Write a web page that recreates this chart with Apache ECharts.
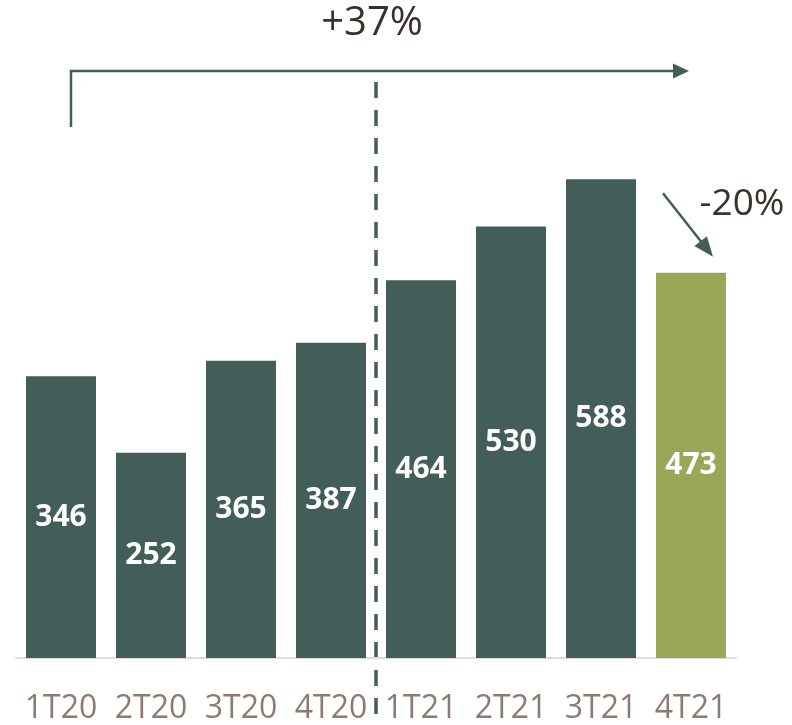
<!DOCTYPE html>
<html>
<head>
<meta charset="utf-8">
<script src="https://cdn.jsdelivr.net/npm/echarts@6/dist/echarts.min.js"></script>
<style>
html,body{margin:0;padding:0;background:#fff;}
#c{width:792px;height:725px;}
</style>
</head>
<body>
<div id="c"></div>
<script>
var categories = ['1T20','2T20','3T20','4T20','1T21','2T21','3T21','4T21'];
var values = [346, 252, 365, 387, 464, 530, 588, 473];
var highlightIndex = 7;
var totalChange = '+37%';
var lastChange = '-20%';

var DARK = '#435E58';
var OLIVE = '#9BA657';
var FONT = '"Open Sans", "Noto Sans", sans-serif';

var chart = echarts.init(document.getElementById('c'));
var option = {
  animation: false,
  grid: {left: 16, right: 56, top: 88, bottom: 66},
  xAxis: {
    type: 'category',
    data: categories,
    axisLine: {lineStyle: {color: '#E0DCDA', width: 2}},
    axisTick: {show: false},
    axisLabel: {interval: 0, color: '#8F7A72', fontSize: 32, fontFamily: FONT, margin: 35}
  },
  yAxis: {type: 'value', min: 0, max: 700, show: false, splitLine: {show: false}},
  series: [{
    type: 'bar',
    barWidth: 70,
    data: values.map(function (v, i) {
      return {value: v, itemStyle: {color: i === highlightIndex ? OLIVE : DARK}};
    }),
    label: {
      show: true, position: 'inside', color: '#fff',
      fontSize: 30, fontWeight: 'bold', fontFamily: FONT
    }
  }]
};
chart.setOption(option);

// annotations positioned from the chart's own scales
var p3 = chart.convertToPixel({gridIndex: 0}, [3, 0]);
var p4 = chart.convertToPixel({gridIndex: 0}, [4, 0]);
var splitX = (p3[0] + p4[0]) / 2;
var first = chart.convertToPixel({gridIndex: 0}, [0, values[0]]);
var last = chart.convertToPixel({gridIndex: 0}, [7, values[7]]);
var prev = chart.convertToPixel({gridIndex: 0}, [6, values[6]]);

var bracketY = 71;
var bx0 = first[0] + 10;
var bx1 = last[0] - 2;
var tip1 = [last[0] + 22, last[1] - 16];
var start1 = [prev[0] + 62, prev[1] + 14];

function arrowHead(tip, from, len, half) {
  var dx = tip[0] - from[0], dy = tip[1] - from[1];
  var L = Math.sqrt(dx * dx + dy * dy), ux = dx / L, uy = dy / L;
  var bxp = tip[0] - ux * len, byp = tip[1] - uy * len;
  return {
    type: 'polygon',
    shape: {points: [[tip[0], tip[1]], [bxp - uy * half, byp + ux * half], [bxp + uy * half, byp - ux * half]]},
    style: {fill: DARK}
  };
}
var dx1 = tip1[0] - start1[0], dy1 = tip1[1] - start1[1];
var L1 = Math.sqrt(dx1 * dx1 + dy1 * dy1);

chart.setOption({
  graphic: [
    {type: 'line', shape: {x1: splitX, y1: 82, x2: splitX, y2: 722},
     style: {stroke: DARK, lineWidth: 3.5, lineDash: [16, 12]}},
    {type: 'polyline', shape: {points: [[bx0, 127], [bx0, bracketY], [bx1 - 14, bracketY]]},
     style: {stroke: DARK, lineWidth: 2.5, fill: null}},
    arrowHead([bx1, bracketY], [bx0, bracketY], 16, 7.5),
    {type: 'text', x: splitX - 4, y: 24,
     style: {text: totalChange, fontSize: 40, fontFamily: FONT, fill: '#3A302C', align: 'center', verticalAlign: 'middle'}},
    {type: 'line', shape: {x1: start1[0], y1: start1[1],
                           x2: tip1[0] - dx1 / L1 * 14, y2: tip1[1] - dy1 / L1 * 14},
     style: {stroke: DARK, lineWidth: 2.5}},
    arrowHead(tip1, start1, 20, 8),
    {type: 'text', x: 742, y: 204,
     style: {text: lastChange, fontSize: 37, fontFamily: FONT, fill: '#3A302C', align: 'center', verticalAlign: 'middle'}}
  ]
});
</script>
</body>
</html>
